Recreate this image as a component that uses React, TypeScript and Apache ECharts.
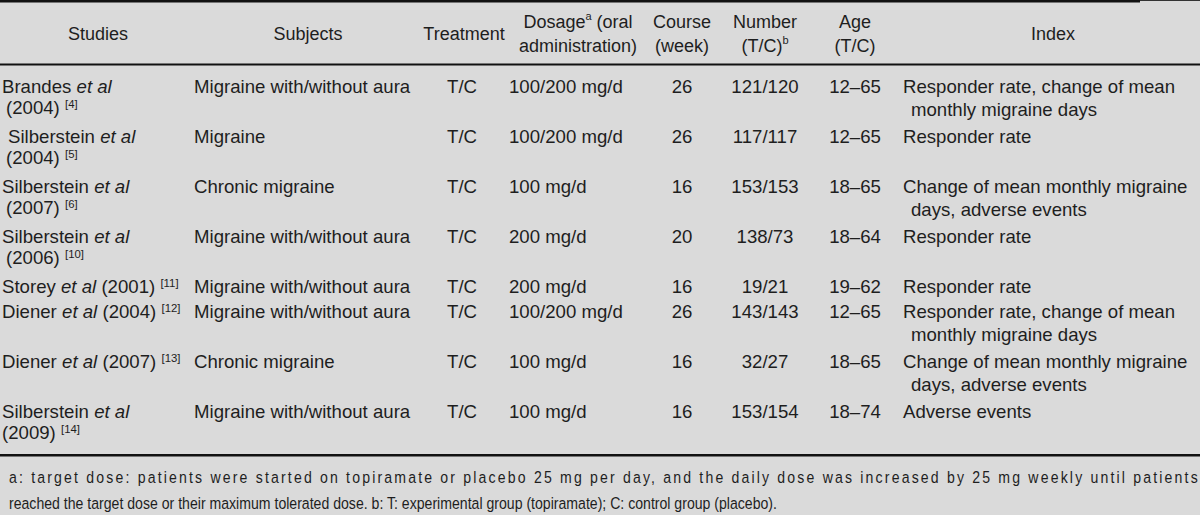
import React, { useEffect, useRef } from "react";
import * as echarts from "echarts";

// ---- data ----
const headers = [
  "Studies",
  "Subjects",
  "Treatment",
  "Dosage{s|a} (oral\nadministration)",
  "Course\n(week)",
  "Number\n(T/C){s|b}",
  "Age\n(T/C)",
  "Index",
];
const studyAuthors = ["Brandes", "Silberstein", "Silberstein", "Silberstein", "Storey", "Diener", "Diener", "Silberstein"];
const studyYears = ["2004", "2004", "2007", "2006", "2001", "2004", "2007", "2009"];
const studyRefs = ["4", "5", "6", "10", "11", "12", "13", "14"];
const studyOneLine = [false, false, false, false, true, true, true, false];
const subjects = [
  "Migraine with/without aura",
  "Migraine",
  "Chronic migraine",
  "Migraine with/without aura",
  "Migraine with/without aura",
  "Migraine with/without aura",
  "Chronic migraine",
  "Migraine with/without aura",
];
const treatments = ["T/C", "T/C", "T/C", "T/C", "T/C", "T/C", "T/C", "T/C"];
const dosages = ["100/200 mg/d", "100/200 mg/d", "100 mg/d", "200 mg/d", "200 mg/d", "100/200 mg/d", "100 mg/d", "100 mg/d"];
const courses = ["26", "26", "16", "20", "16", "26", "16", "16"];
const numbers = ["121/120", "117/117", "153/153", "138/73", "19/21", "143/143", "32/27", "153/154"];
const ages = ["12–65", "12–65", "18–65", "18–64", "19–62", "12–65", "18–65", "18–74"];
const indexLines = [
  ["Responder rate, change of mean", "monthly migraine days"],
  ["Responder rate"],
  ["Change of mean monthly migraine", "days, adverse events"],
  ["Responder rate"],
  ["Responder rate"],
  ["Responder rate, change of mean", "monthly migraine days"],
  ["Change of mean monthly migraine", "days, adverse events"],
  ["Adverse events"],
];
const footnotes = [
  "a: target dose: patients were started on topiramate or placebo 25 mg per day, and the daily dose was increased by 25 mg weekly until patients",
  "reached the target dose or their maximum tolerated dose. b: T: experimental group (topiramate); C: control group (placebo).",
];

// ---- layout ----
const W = 1200;
const H = 515;
const FONT = '"Liberation Sans", Arial, Helvetica, sans-serif';
const FS = 18;
const BODY_SX = 1.035;
const INK = "#1e1e1e";
const BG = "#dadada";
const headerCenters = [98, 308, 464, 578, 682, 765, 855, 1053];
const rowLinesCount = [2, 2, 2, 2, 1, 2, 2, 2];
const ROW_START = 87;
const ROW_STEP = 25;
const SUB_STEP = 21;
const FOOT_X = 9;
const FOOT_W = 1188;
const FOOT_LAST_W = 768;
const FFS = 17;

function rich() {
  return {
    i: { fontStyle: "italic", fontSize: FS, fontFamily: FONT, fill: INK },
    s: { fontSize: 11, fontFamily: FONT, fill: INK, verticalAlign: "top", lineHeight: 12 },
    n: { fontSize: FS, fontFamily: FONT, fill: INK, lineHeight: 20 },
  };
}

function txt(text: string, x: number, y: number, align: string, extra: any = {}, sx = 1) {
  return {
    type: "text",
    x,
    y,
    scaleX: sx,
    silent: true,
    style: {
      text,
      fontSize: FS,
      fontFamily: FONT,
      fill: INK,
      align,
      verticalAlign: "middle",
      rich: rich(),
      ...extra,
    },
  };
}

function measure(text: string, font: string) {
  const c = document.createElement("canvas");
  const ctx = c.getContext("2d")!;
  ctx.font = font;
  return ctx.measureText(text).width;
}

export default function App() {
  const ref = useRef<HTMLDivElement>(null);
  useEffect(() => {
    document.body.style.margin = "0";
    const chart = echarts.init(ref.current!, undefined, { renderer: "svg" });
    const els: any[] = [];
    // rules
    els.push({ type: "rect", shape: { x: 0, y: 0, width: 1140, height: 2.5 }, style: { fill: "#111" }, silent: true });
    els.push({ type: "rect", shape: { x: 1140, y: 0, width: 60, height: 1 }, style: { fill: "#333" }, silent: true });
    els.push({ type: "rect", shape: { x: 0, y: 63.5, width: W, height: 2 }, style: { fill: "#111" }, silent: true });
    els.push({ type: "rect", shape: { x: 0, y: 454, width: W, height: 2.5 }, style: { fill: "#111" }, silent: true });

    // headers
    headers.forEach((h, k) => {
      els.push(txt(h.replace("\n", "{n|}\n"), headerCenters[k], 34, "center", { lineHeight: 24 }));
    });

    // rows
    let y = ROW_START;
    for (let r = 0; r < studyAuthors.length; r++) {
      const a = `${studyAuthors[r]} {i|et al}`;
      const yr = `(${studyYears[r]}) {s|[${studyRefs[r]}]}`;
      if (studyOneLine[r]) {
        els.push(txt(`${a} ${yr}`, 2, y, "left", {}, BODY_SX));
      } else {
        els.push(txt(a, r === 1 ? 8 : 2, y, "left", {}, BODY_SX));
        els.push(txt(yr, r === 7 ? 2 : 6, y + SUB_STEP, "left", {}, BODY_SX));
      }
      els.push(txt(subjects[r], 194, y, "left", {}, BODY_SX));
      els.push(txt(treatments[r], 462, y, "center", {}, BODY_SX));
      els.push(txt(dosages[r], 509, y, "left", {}, BODY_SX));
      els.push(txt(courses[r], 682, y, "center", {}, BODY_SX));
      els.push(txt(numbers[r], 765, y, "center", {}, BODY_SX));
      els.push(txt(ages[r], 855, y, "center", {}, BODY_SX));
      indexLines[r].forEach((l, j) => {
        els.push(txt(l, j === 0 ? 903 : 911, y + j * (SUB_STEP + 2), "left", {}, BODY_SX));
      });
      y += ROW_STEP * rowLinesCount[r];
    }

    // footnotes: condensed type; first line justified by letter spacing
    const ffont = `${FFS}px ${FONT}`;
    const sx = FOOT_LAST_W / (measure(footnotes[1], ffont) || 1);
    const footStyle = { fontSize: FFS, fontFamily: FONT, fill: INK, align: "left", verticalAlign: "middle" };
    footnotes.forEach((f, k) => {
      els.push({ type: "text", x: FOOT_X, y: 477 + k * 26, scaleX: sx, silent: true, style: { text: f, ...footStyle } });
    });

    chart.setOption({ animation: false, backgroundColor: BG, graphic: { elements: els } });

    const justify = () => {
      const nodes = ref.current ? ref.current.querySelectorAll("text") : [];
      nodes.forEach((t: any) => {
        if (t.textContent === footnotes[0]) {
          t.setAttribute("textLength", String(FOOT_W / sx));
          t.setAttribute("lengthAdjust", "spacing");
        }
      });
    };
    justify();
    chart.on("finished", justify);
    const id = window.setTimeout(justify, 50);
    return () => {
      window.clearTimeout(id);
      chart.dispose();
    };
  }, []);
  return <div ref={ref} style={{ width: W, height: H }} />;
}
